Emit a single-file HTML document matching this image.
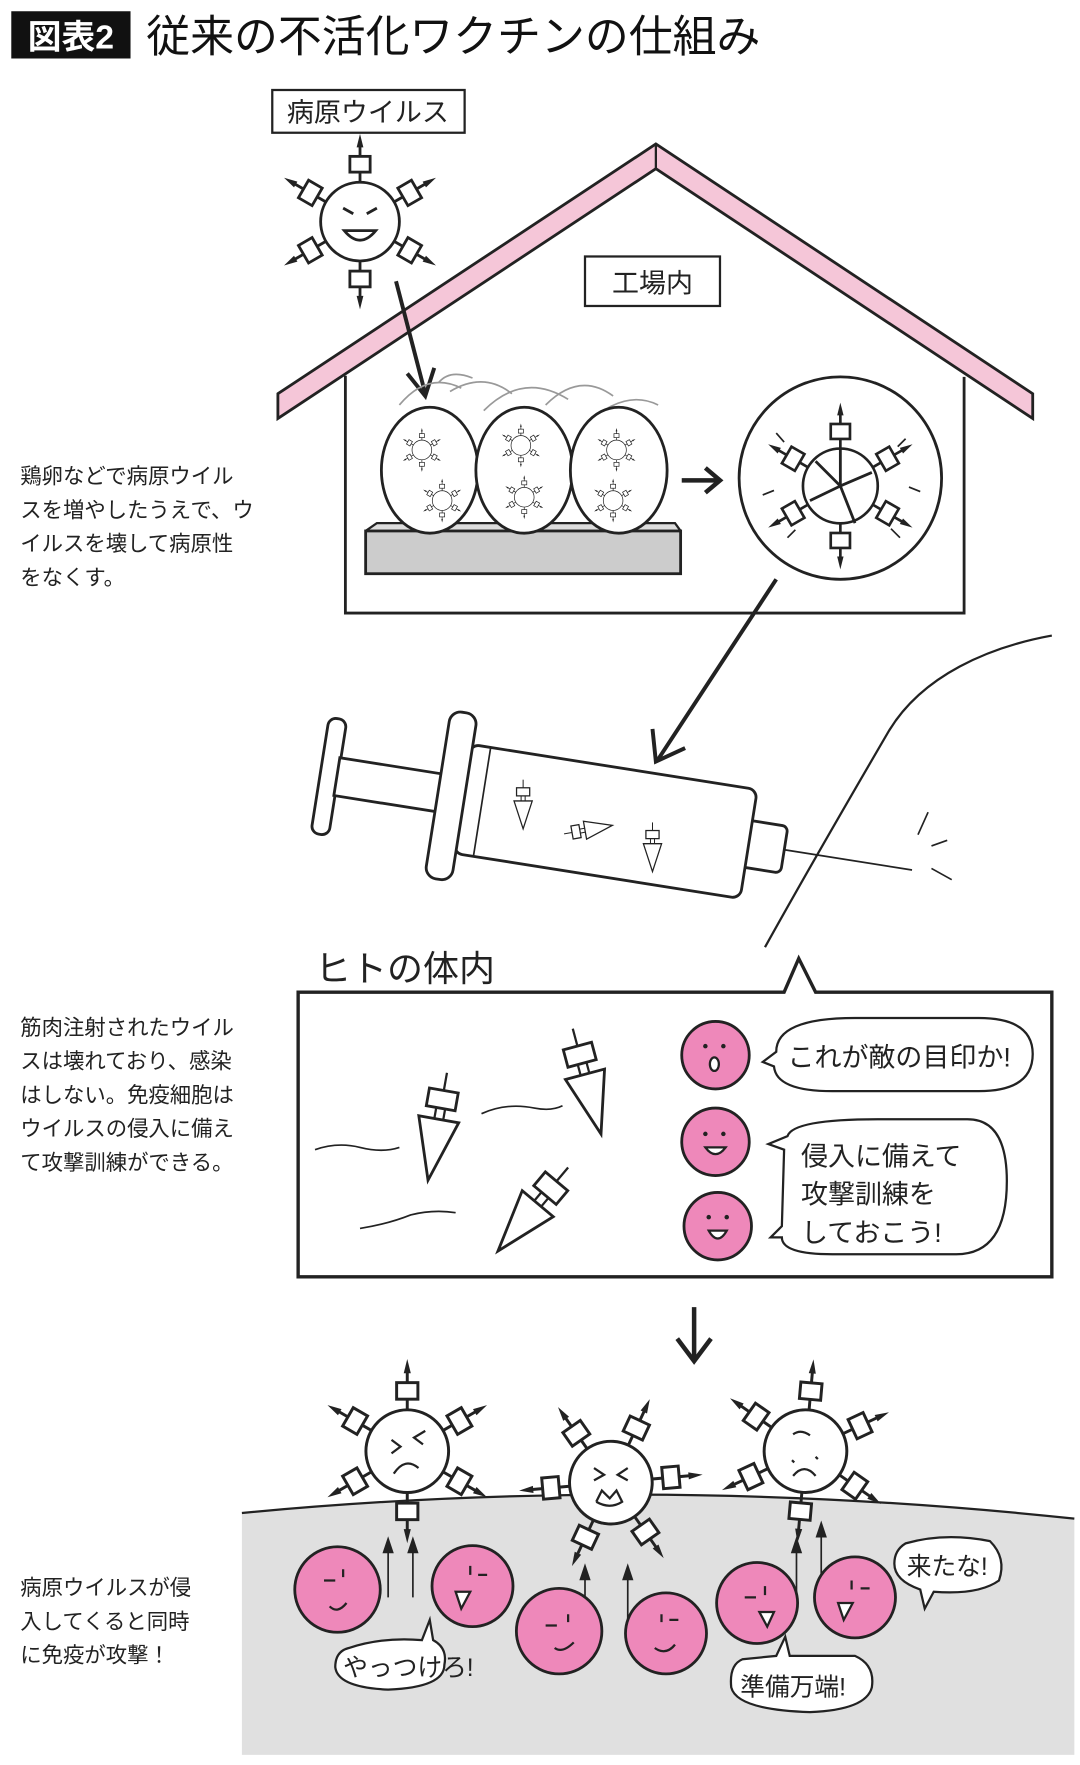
<!DOCTYPE html>
<html><head><meta charset="utf-8"><style>
html,body{margin:0;padding:0;background:#fff;}
svg{display:block;}
text{font-family:"Liberation Sans","Noto Sans CJK JP",sans-serif;}
</style></head><body>
<svg width="1080" height="1765" viewBox="0 0 960 1569" xmlns="http://www.w3.org/2000/svg">
<defs>
<g id="spk">
<line x1="0" y1="-34" x2="0" y2="-68" stroke="#222" stroke-width="2.5"/>
<rect x="-9" y="-58" width="18" height="14" fill="#fff" stroke="#222" stroke-width="2.5"/>
<path d="M-3,-66 L0,-78 L3,-66 Z" fill="#222"/>
</g>
<g id="virus">
<use href="#spk"/>
<use href="#spk" transform="rotate(60)"/>
<use href="#spk" transform="rotate(120)"/>
<use href="#spk" transform="rotate(180)"/>
<use href="#spk" transform="rotate(240)"/>
<use href="#spk" transform="rotate(300)"/>
<circle r="35" fill="#fff" stroke="#222" stroke-width="2.5"/>
</g>
<g id="cone">
<path d="M-18,0 L18,0 L0,55 Z" fill="#fff" stroke="#222" stroke-width="2.5"/>
<line x1="-4" y1="0" x2="-4" y2="-10" stroke="#222" stroke-width="2"/>
<line x1="4" y1="0" x2="4" y2="-10" stroke="#222" stroke-width="2"/>
<rect x="-13" y="-26" width="26" height="16" fill="#fff" stroke="#222" stroke-width="2.5"/>
<line x1="0" y1="-26" x2="0" y2="-42" stroke="#222" stroke-width="2"/>
</g>
<g id="mini" transform="scale(0.25)">
<use href="#virus"/>
</g>
</defs>

<!-- title -->
<rect x="10" y="10" width="106" height="42" fill="#111"/>
<text x="63" y="43" font-size="30" font-weight="bold" fill="#fff" text-anchor="middle">図表2</text>
<text x="130" y="46" font-size="39" fill="#111">従来の不活化ワクチンの仕組み</text>

<!-- virus label -->
<rect x="242" y="80" width="171" height="38" fill="#fff" stroke="#222" stroke-width="2"/>
<text x="327" y="108" font-size="24" fill="#222" text-anchor="middle">病原ウイルス</text>
<use href="#virus" x="320" y="197"/>
<g fill="none" stroke="#222" stroke-width="2.5">
<path d="M305,185 L314,190 M335,185 L326,190"/>
<path d="M306,205 Q320,222 334,205 Z" fill="#fff"/>
</g>

<!-- house -->
<path d="M247,350 L583,128 L918,350 L918,372 L583,150 L247,372 Z" fill="#f5c6d8" stroke="#222" stroke-width="2.5"/>
<line x1="583" y1="128" x2="583" y2="150" stroke="#222" stroke-width="2"/>
<path d="M307,334 L307,545 L857,545 L857,335" fill="none" stroke="#222" stroke-width="2.5"/>
<rect x="520" y="228" width="120" height="44" fill="#fff" stroke="#222" stroke-width="2"/>
<text x="580" y="260" font-size="24" fill="#222" text-anchor="middle">工場内</text>

<!-- arrow to eggs -->
<line x1="352" y1="250" x2="378" y2="350" stroke="#222" stroke-width="3.5"/>
<path d="M362,332 L378,352 L386,327" fill="none" stroke="#222" stroke-width="3.5"/>

<!-- bounce arcs -->
<g fill="none" stroke="#999" stroke-width="1.5">
<path d="M355,360 Q380,330 410,345"/><path d="M400,348 Q430,330 455,350"/>
<path d="M430,365 Q465,330 505,355"/><path d="M485,360 Q515,330 545,352"/>
<path d="M520,378 Q555,345 585,360"/><path d="M390,340 Q400,328 420,336"/>
</g>

<!-- tray and eggs -->
<path d="M325,472 L335,465 L600,465 L605,472" fill="#ddd" stroke="#222" stroke-width="2"/>
<rect x="325" y="472" width="280" height="38" fill="#ccc" stroke="#222" stroke-width="2.5"/>
<ellipse cx="382" cy="418" rx="43" ry="56" fill="#fff" stroke="#222" stroke-width="2.5"/>
<ellipse cx="466" cy="418" rx="43" ry="56" fill="#fff" stroke="#222" stroke-width="2.5"/>
<ellipse cx="550" cy="418" rx="43" ry="56" fill="#fff" stroke="#222" stroke-width="2.5"/>
<use href="#mini" transform="translate(375,400)"/>
<use href="#mini" transform="translate(393,445)"/>
<use href="#mini" transform="translate(463,396)"/>
<use href="#mini" transform="translate(466,442)"/>
<use href="#mini" transform="translate(548,400)"/>
<use href="#mini" transform="translate(545,445)"/>

<!-- arrow right -->
<line x1="606" y1="427" x2="638" y2="427" stroke="#222" stroke-width="4"/>
<path d="M627,416 L640,427 L627,438" fill="none" stroke="#222" stroke-width="4"/>

<!-- broken virus circle -->
<circle cx="747" cy="425" r="90" fill="#fff" stroke="#222" stroke-width="2.5"/>
<use href="#virus" transform="translate(747,432) scale(0.95)"/>
<g stroke="#222" stroke-width="2.5">
<line x1="747" y1="432" x2="747" y2="398"/><line x1="747" y1="432" x2="775" y2="420"/>
<line x1="747" y1="432" x2="720" y2="445"/><line x1="747" y1="432" x2="760" y2="465"/>
<line x1="747" y1="432" x2="725" y2="410"/>
</g>
<g stroke="#222" stroke-width="1.5">
<line x1="690" y1="385" x2="697" y2="393"/><line x1="805" y1="390" x2="798" y2="397"/>
<line x1="678" y1="440" x2="688" y2="436"/><line x1="818" y1="437" x2="808" y2="433"/>
<line x1="700" y1="478" x2="707" y2="471"/><line x1="800" y1="478" x2="792" y2="470"/>
</g>

<!-- arrow to syringe -->
<line x1="690" y1="515" x2="585" y2="675" stroke="#222" stroke-width="3.5"/>
<path d="M580,648 L583,677 L609,665" fill="none" stroke="#222" stroke-width="3.5"/>

<!-- arm -->
<path d="M935,565 C880,575 820,600 790,650 C755,710 720,770 680,842" fill="none" stroke="#222" stroke-width="2"/>
<g stroke="#222" stroke-width="1.5">
<line x1="825" y1="722" x2="816" y2="742"/><line x1="828" y1="752" x2="842" y2="747"/><line x1="828" y1="772" x2="846" y2="782"/>
</g>

<!-- syringe -->
<g transform="rotate(9 480 720)" fill="#fff" stroke="#222" stroke-width="2.5">
<rect x="282" y="668" width="16" height="104" rx="7"/>
<rect x="297" y="702" width="96" height="34"/>
<line x1="700" y1="721" x2="815" y2="721" stroke-width="1.5"/>
<rect x="660" y="700" width="40" height="42" rx="5"/>
<rect x="410" y="672" width="258" height="98" rx="8"/>
<rect x="388" y="645" width="24" height="150" rx="10"/>
<line x1="428" y1="672" x2="428" y2="770" stroke-width="1.5"/>
</g>
<use href="#cone" transform="translate(465,712) scale(0.45)"/>
<use href="#cone" transform="translate(520,738) rotate(-100) scale(0.45)"/>
<use href="#cone" transform="translate(580,750) scale(0.45)"/>

<!-- body box -->
<text x="280" y="872" font-size="32" fill="#222">ヒトの体内</text>
<path d="M265,882 L697,882 L710,852 L725,882 L935,882 L935,1135 L265,1135 Z" fill="#fff" stroke="#222" stroke-width="3"/>
<g fill="none" stroke="#222" stroke-width="1.5">
<path d="M280,1022 Q300,1015 320,1020 Q340,1025 355,1020"/>
<path d="M428,990 Q450,980 475,985 Q490,988 500,983"/>
<path d="M320,1092 Q345,1088 365,1080 Q385,1075 405,1078"/>
</g>
<use href="#cone" transform="translate(390,995) rotate(10)"/>
<use href="#cone" transform="translate(520,955) rotate(-15)"/>
<use href="#cone" transform="translate(478,1070) rotate(40)"/>

<g fill="#ee88ba" stroke="#222" stroke-width="2.5">
<circle cx="636" cy="938" r="30"/><circle cx="636" cy="1015" r="30"/><circle cx="638" cy="1090" r="30"/>
</g>
<g fill="#222"><circle cx="627" cy="930" r="2"/><circle cx="643" cy="930" r="2"/><circle cx="627" cy="1008" r="2"/><circle cx="643" cy="1008" r="2"/><circle cx="630" cy="1082" r="2"/><circle cx="646" cy="1082" r="2"/></g>
<g fill="#fff" stroke="#222" stroke-width="2">
<ellipse cx="635" cy="946" rx="4" ry="6"/>
<path d="M627,1020 Q636,1032 645,1020 Z"/><path d="M630,1094 Q638,1108 646,1094 Z"/>
</g>
<path d="M690,935 Q690,905 760,905 L870,905 Q918,905 918,937 Q918,970 870,970 L740,970 Q690,970 688,948 L678,944 Z" fill="#fff" stroke="#222" stroke-width="2"/>
<text x="700" y="948" font-size="24" fill="#222">これが敵の目印か!</text>
<path d="M700,1010 Q705,995 780,995 L860,995 Q895,995 895,1050 Q895,1115 850,1115 L740,1115 Q695,1115 695,1100 L685,1100 L695,1090 L697,1022 L683,1017 Z" fill="#fff" stroke="#222" stroke-width="2"/>
<text x="712" y="1036" font-size="24" fill="#222">侵入に備えて</text>
<text x="712" y="1070" font-size="24" fill="#222">攻撃訓練を</text>
<text x="712" y="1104" font-size="24" fill="#222">しておこう!</text>

<!-- arrow down -->
<line x1="617" y1="1162" x2="617" y2="1208" stroke="#222" stroke-width="4"/>
<path d="M602,1190 L617,1210 L632,1190" fill="none" stroke="#222" stroke-width="4"/>

<!-- ground -->
<path d="M215,1345 Q580,1310 955,1350 L955,1560 L215,1560 Z" fill="#e0e0e0"/>
<path d="M215,1345 Q580,1310 955,1350" fill="none" stroke="#222" stroke-width="2"/>

<use href="#virus" transform="translate(362,1290) scale(1.05)"/>
<use href="#virus" transform="translate(543,1318) rotate(25) scale(1.05)"/>
<use href="#virus" transform="translate(716,1290) rotate(5) scale(1.05)"/>
<g fill="none" stroke="#222" stroke-width="2">
<path d="M348,1280 L356,1286 L348,1292 M378,1272 L368,1278 L376,1284 M350,1310 Q360,1295 372,1305"/>
<path d="M528,1305 L537,1311 L528,1316 M558,1305 L549,1311 L558,1316 M530,1335 L535,1325 L542,1332 L548,1325 L553,1335 Q542,1342 530,1335"/>
<path d="M705,1275 Q712,1270 720,1276 M704,1298 L706,1300 M725,1295 L727,1297 M705,1312 Q715,1300 725,1312"/>
</g>

<!-- arrows up -->
<g stroke="#222" stroke-width="1.5" fill="#222">
<line x1="345" y1="1420" x2="345" y2="1372"/><path d="M341,1380 L345,1368 L349,1380Z"/>
<line x1="367" y1="1420" x2="367" y2="1372"/><path d="M363,1380 L367,1368 L371,1380Z"/>
<line x1="520" y1="1450" x2="520" y2="1395"/><path d="M516,1404 L520,1392 L524,1404Z"/>
<line x1="558" y1="1450" x2="558" y2="1395"/><path d="M554,1404 L558,1392 L562,1404Z"/>
<line x1="708" y1="1420" x2="708" y2="1370"/><path d="M704,1380 L708,1368 L712,1380Z"/>
<line x1="730" y1="1400" x2="730" y2="1356"/><path d="M726,1366 L730,1354 L734,1366Z"/>
</g>

<g fill="#ee88ba" stroke="#222" stroke-width="2.5">
<circle cx="300" cy="1413" r="38"/><circle cx="420" cy="1410" r="36"/>
<circle cx="497" cy="1450" r="38"/><circle cx="592" cy="1452" r="36"/>
<circle cx="673" cy="1425" r="36"/><circle cx="760" cy="1420" r="36"/>
</g>
<g fill="none" stroke="#222" stroke-width="2">
<path d="M288,1405 L298,1405 M305,1395 L305,1402 M293,1428 Q300,1435 308,1425"/>
<path d="M425,1400 L433,1400 M418,1392 L418,1400"/>
<path d="M485,1445 L495,1445 M505,1435 L505,1442 M493,1465 Q500,1470 510,1460"/>
<path d="M595,1440 L603,1440 M588,1435 L588,1442 M582,1465 Q592,1472 600,1462"/>
<path d="M662,1420 L672,1420 M680,1410 L680,1418"/>
<path d="M765,1412 L773,1412 M757,1405 L757,1413"/>
</g>
<g fill="#fff" stroke="#222" stroke-width="2">
<path d="M405,1415 L418,1415 L410,1430 Z"/><path d="M675,1433 L688,1433 L682,1446 Z"/><path d="M745,1425 L758,1425 L750,1440 Z"/>
</g>

<!-- bubbles -->
<path d="M310,1465 Q340,1455 375,1458 L382,1440 L385,1458 Q398,1465 395,1480 Q395,1500 345,1502 Q300,1500 298,1482 Q298,1468 310,1465 Z" fill="#fff" stroke="#222" stroke-width="2"/>
<text x="305" y="1490" font-size="22" fill="#222">やっつけろ!</text>
<path d="M660,1475 L690,1472 L698,1455 L702,1472 L760,1472 Q778,1480 775,1500 Q770,1520 720,1522 Q655,1520 650,1500 Q648,1480 660,1475 Z" fill="#fff" stroke="#222" stroke-width="2"/>
<text x="658" y="1507" font-size="22" fill="#222">準備万端!</text>
<path d="M805,1372 Q840,1362 880,1370 Q895,1385 888,1405 Q870,1418 830,1415 L822,1430 L818,1413 Q795,1405 795,1390 Q795,1378 805,1372 Z" fill="#fff" stroke="#222" stroke-width="2"/>
<text x="806" y="1400" font-size="22" fill="#222">来たな!</text>

<!-- side texts -->
<g font-size="19" fill="#222">
<text x="18" y="430">鶏卵などで病原ウイル</text>
<text x="18" y="460">スを増やしたうえで、ウ</text>
<text x="18" y="490">イルスを壊して病原性</text>
<text x="18" y="520">をなくす。</text>
<text x="18" y="920">筋肉注射されたウイル</text>
<text x="18" y="950">スは壊れており、感染</text>
<text x="18" y="980">はしない。免疫細胞は</text>
<text x="18" y="1010">ウイルスの侵入に備え</text>
<text x="18" y="1040">て攻撃訓練ができる。</text>
<text x="18" y="1418">病原ウイルスが侵</text>
<text x="18" y="1448">入してくると同時</text>
<text x="18" y="1478">に免疫が攻撃！</text>
</g>
</svg>
</body></html>
